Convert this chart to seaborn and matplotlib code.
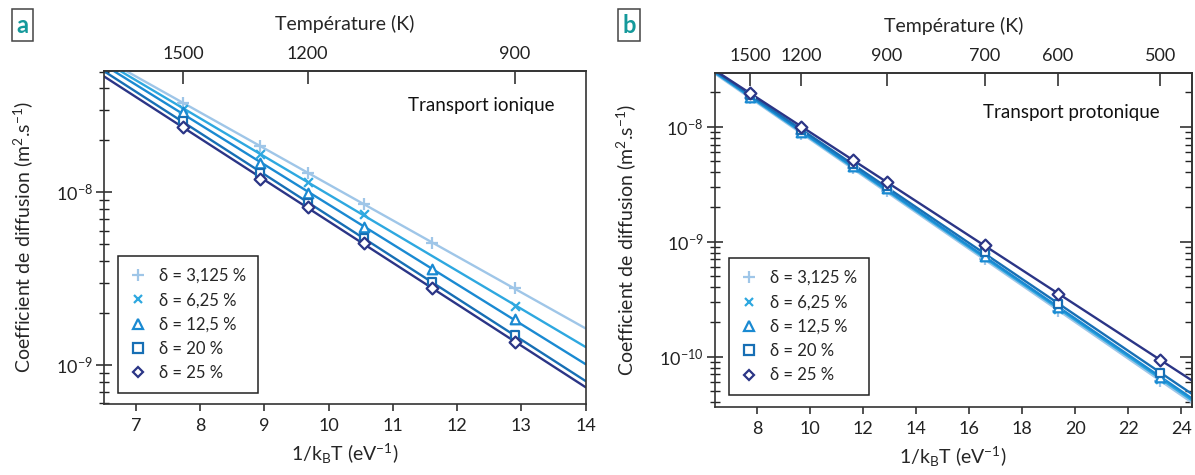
import numpy as np
import matplotlib
matplotlib.use("Agg")
import matplotlib.pyplot as plt
import seaborn as sns
from matplotlib.lines import Line2D
from matplotlib.ticker import (LogLocator, NullFormatter, LogFormatterSciNotation,
                               NullLocator, FixedLocator)

# ---------------- data ----------------
KB = 8.617e-5  # eV/K

series_labels = ["δ = 3,125 %", "δ = 6,25 %", "δ = 12,5 %", "δ = 20 %", "δ = 25 %"]

# Panel a : ionic transport
temps_a = [1500, 1300, 1200, 1100, 1000, 900]
a_d3125 = [3.30e-8, 1.86e-8, 1.29e-8, 8.6e-9, 5.1e-9, 2.78e-9]
a_d625 = [3.03e-8, 1.67e-8, 1.15e-8, 7.5e-9, np.nan, 2.2e-9]
a_d125 = [2.92e-8, 1.47e-8, 9.95e-9, 6.32e-9, 3.6e-9, 1.85e-9]
a_d20 = [2.60e-8, 1.29e-8, 8.7e-9, 5.43e-9, 3.03e-9, 1.49e-9]
a_d25 = [2.39e-8, 1.19e-8, 8.26e-9, 5.07e-9, 2.8e-9, 1.36e-9]

# Panel b : protonic transport
temps_b = [1500, 1200, 1000, 900, 700, 600, 500]
b_d3125 = [1.76e-8, 8.65e-9, 4.34e-9, 2.76e-9, 7.08e-10, 2.49e-10, 6.15e-11]
b_d625 = [1.79e-8, 8.90e-9, 4.47e-9, 2.85e-9, 7.30e-10, 2.60e-10, 6.40e-11]
b_d125 = [1.82e-8, 9.05e-9, 4.55e-9, 2.91e-9, 7.51e-10, 2.68e-10, 6.65e-11]
b_d20 = [1.87e-8, 9.36e-9, 4.74e-9, 3.02e-9, 8.18e-10, 2.86e-10, 7.18e-11]
b_d25 = [1.95e-8, 1.00e-8, 5.13e-9, 3.32e-9, 9.36e-10, 3.51e-10, 9.35e-11]

xticks_a = [7, 8, 9, 10, 11, 12, 13, 14]
xticks_b = [8, 10, 12, 14, 16, 18, 20, 22, 24]
yticks_a = [1e-9, 1e-8]
yticks_b = [1e-10, 1e-9, 1e-8]
top_ticks_a = [1500, 1200, 900]
top_ticks_b = [1500, 1200, 900, 700, 600, 500]

# ---------------- style ----------------
colors = ["#9fc6e8", "#2ea8e0", "#1a8ad2", "#176fb5", "#2b3586"]
markers = ["+", "x", "^", "s", "D"]
msizes = [75, 40, 48, 38, 36]

sns.set_theme(style="ticks")
plt.rcParams["font.family"] = ["Lato", "DejaVu Sans"]
plt.rcParams["mathtext.fontset"] = "custom"
plt.rcParams["mathtext.rm"] = "Lato"
plt.rcParams["mathtext.it"] = "Lato:italic"
plt.rcParams["mathtext.bf"] = "Lato:bold"
plt.rcParams["axes.edgecolor"] = "#333333"
plt.rcParams["axes.linewidth"] = 1.2

fig = plt.figure(figsize=(11.95, 4.75), dpi=100)
ax_a = fig.add_axes([0.087, 0.1495, 0.403, 0.7015])
ax_b = fig.add_axes([0.598, 0.1438, 0.3995, 0.7032])


def t2x(t):
    t = np.asarray(t, dtype=float)
    with np.errstate(divide="ignore"):
        return 1.0 / (KB * t)


def minor_positions(ylim):
    lo = int(np.floor(np.log10(ylim[0])))
    hi = int(np.ceil(np.log10(ylim[1])))
    vals = [k * 10.0 ** e for e in range(lo, hi) for k in range(2, 10)]
    return [v for v in vals if ylim[0] <= v <= ylim[1]]


def draw_panel(ax, temps, data, xlim, ylim, xticks, yticks, top_ticks, note, note_pos):
    x = t2x(temps)
    ax.set_yscale("log")
    grid = np.linspace(xlim[0], xlim[1], 50)
    for vals, c, m, s in zip(data, colors, markers, msizes):
        v = np.asarray(vals, dtype=float)
        ok = ~np.isnan(v)
        p = np.polyfit(x[ok], np.log10(v[ok]), 1)
        sns.lineplot(x=grid, y=10 ** np.polyval(p, grid), color=c, lw=1.7,
                     ax=ax, legend=False, zorder=2)
        if m in ("+", "x"):
            sns.scatterplot(x=x[ok], y=v[ok], marker=m, s=s, color=c,
                            linewidth=1.6, ax=ax, legend=False, zorder=3)
        else:
            sns.scatterplot(x=x[ok], y=v[ok], marker=m, s=s, facecolor="white",
                            edgecolor=c, linewidth=1.6, ax=ax, legend=False, zorder=3)
    ax.set_xlim(*xlim)
    ax.set_ylim(*ylim)
    ax.set_xticks(xticks)
    ax.yaxis.set_major_locator(FixedLocator(yticks))
    ax.yaxis.set_minor_locator(FixedLocator(minor_positions(ylim)))
    ax.yaxis.set_minor_formatter(NullFormatter())
    ax.yaxis.set_major_formatter(LogFormatterSciNotation())
    ax.tick_params(axis="x", which="major", direction="out", length=5, width=1.1,
                   labelsize=13, pad=5, colors="#222222")
    ax.tick_params(axis="y", which="major", direction="inout", length=12, width=1.1,
                   labelsize=13, pad=2, colors="#222222")
    ax.tick_params(axis="y", which="minor", direction="inout", length=7, width=1.0,
                   colors="#222222")
    ax.set_xlabel(r"1/k$_\mathrm{B}$T (eV$^{-1}$)", fontsize=14, labelpad=6)
    ax.set_ylabel(r"Coefficient de diffusion (m$^{2}$.s$^{-1}$)", fontsize=14, labelpad=15)

    sec = ax.secondary_xaxis("top", functions=(t2x, t2x))
    sec.set_xticks(top_ticks)
    sec.set_xticklabels([str(t) for t in top_ticks])
    sec.xaxis.set_minor_locator(NullLocator())
    sec.tick_params(axis="x", direction="in", length=9, width=1.1, labelsize=13,
                    pad=6, colors="#222222")
    sec.set_xlabel("Température (K)", fontsize=14, labelpad=12)
    sec.yaxis.set_visible(False)

    ax.text(note_pos[0], note_pos[1], note, transform=ax.transAxes, ha="right",
            va="center", fontsize=13.5, color="#111111")

    handles = []
    for c, m in zip(colors, markers):
        if m in ("+", "x"):
            h = Line2D([], [], linestyle="none", marker=m, color=c,
                       markersize=8 if m == "+" else 6, markeredgewidth=1.6)
        else:
            h = Line2D([], [], linestyle="none", marker=m, markerfacecolor="white",
                       markeredgecolor=c, markersize=6.5 if m != "D" else 5.5,
                       markeredgewidth=1.6)
        handles.append(h)
    return ax, sec, handles


data_a = [a_d3125, a_d625, a_d125, a_d20, a_d25]
data_b = [b_d3125, b_d625, b_d125, b_d20, b_d25]

ylim_b = (3.67e-11, 2.95e-8)
ax_a, sec_a, handles = draw_panel(ax_a, temps_a, data_a, (6.5, 14.0), (5.94e-10, 5.06e-8),
                                  xticks_a, yticks_a, top_ticks_a, "Transport ionique",
                                  (0.935, 0.895))
ax_b, sec_b, _ = draw_panel(ax_b, temps_b, data_b, (6.4, 24.4), ylim_b,
                            xticks_b, yticks_b, top_ticks_b, "Transport protonique",
                            (0.933, 0.882))

# right-hand ticks on panel b
rb = ax_b.secondary_yaxis("right", functions=(lambda y: y, lambda y: y))
rb.yaxis.set_major_locator(FixedLocator(yticks_b))
rb.yaxis.set_minor_locator(FixedLocator(minor_positions(ylim_b)))
rb.yaxis.set_major_formatter(NullFormatter())
rb.yaxis.set_minor_formatter(NullFormatter())
rb.tick_params(axis="y", which="major", direction="in", length=9, width=1.1, colors="#222222")
rb.tick_params(axis="y", which="minor", direction="in", length=5, width=1.0, colors="#222222")
rb.xaxis.set_visible(False)

for ax, anchor in ((ax_a, (0.029, 0.033)), (ax_b, (0.031, 0.035))):
    leg = ax.legend(handles, series_labels, loc="lower left", bbox_to_anchor=anchor,
                    borderaxespad=0, fontsize=12, frameon=True, fancybox=False,
                    framealpha=1, edgecolor="#222222", handlelength=1.0,
                    handletextpad=0.75, labelspacing=0.5, borderpad=0.7)
    leg.get_frame().set_linewidth(1.1)

# panel letters
for xpos, letter in ((0.0190, "a"), (0.5265, "b")):
    fig.text(xpos, 0.947, letter, ha="center", va="center", fontsize=17, fontweight="bold",
             color="#14999b",
             bbox=dict(boxstyle="square,pad=0.18", fc="white", ec="#444444", lw=1.1))

fig.savefig("out.png", dpi=100, facecolor="white")
